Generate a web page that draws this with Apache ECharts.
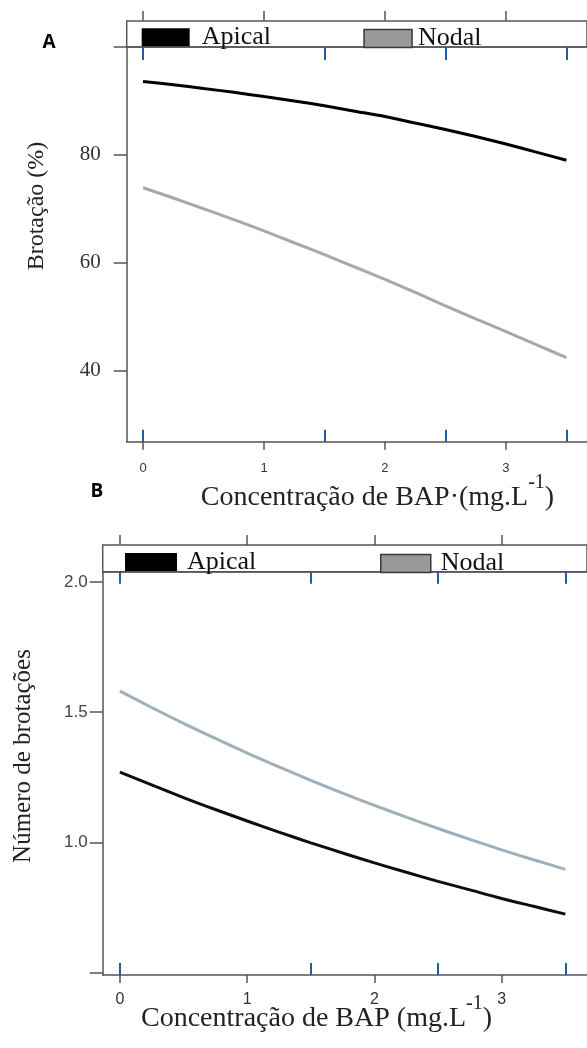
<!DOCTYPE html>
<html>
<head>
<meta charset="utf-8">
<script src="https://cdn.jsdelivr.net/npm/echarts@6/dist/echarts.min.js"></script>
<style>
  html, body { margin: 0; padding: 0; background: #fff; }
  #chart { width: 587px; height: 1048px; }
</style>
</head>
<body>
<div id="chart"></div>
<script>
// dados
const conc = [0, 0.25, 0.5, 0.75, 1, 1.25, 1.5, 1.75, 2, 2.25, 2.5, 2.75, 3, 3.25, 3.5]
const brotacaoApical = [93.6, 93.0, 92.3, 91.6, 90.8, 90.0, 89.1, 88.1, 87.1, 85.9, 84.7, 83.4, 82.0, 80.5, 79.0]
const brotacaoNodal = [73.9, 72.0, 70.0, 68.0, 65.9, 63.7, 61.5, 59.2, 56.9, 54.5, 52.0, 49.6, 47.2, 44.8, 42.4]
const numeroApical = [1.270, 1.221, 1.172, 1.126, 1.082, 1.039, 0.998, 0.959, 0.921, 0.885, 0.850, 0.817, 0.784, 0.754, 0.724]
const numeroNodal = [1.581, 1.518, 1.457, 1.399, 1.343, 1.290, 1.238, 1.189, 1.142, 1.097, 1.053, 1.011, 0.971, 0.933, 0.896]

const xLabelTicks = [0, 1, 2, 3]
const xBlueTicks = [0, 1.5, 2.5, 3.5]
const yLabelsA = [40, 60, 80]
const yTicksA = [40, 60, 80, 100]
const yLabelsB = [1.0, 1.5, 2.0]
const yTicksB = [0.5, 1.0, 1.5, 2.0]

const SERIF = 'Liberation Serif'
const SANS = 'Liberation Sans'
const AXIS = '#555'
const BLUE = '#1f5f9f'
const XMIN = -0.135
const XMAX = 3.67

const pairs = (ys) => conc.map((x, i) => [x, ys[i]])

// eixo x base
const xBase = (gridIndex, extra) => Object.assign({
  type: 'value', gridIndex, min: XMIN, max: XMAX,
  splitLine: { show: false },
  axisLine: { show: false, onZero: false },
  axisLabel: { show: false },
  axisTick: { show: false }
}, extra)

const chart = echarts.init(document.getElementById('chart'))

const legendItem = (left, top, name, w, itemStyle, gap) => ({
  left, top, padding: 0, itemWidth: w, itemHeight: 18, icon: 'rect',
  selectedMode: false,
  data: [{ name, itemStyle }],
  textStyle: { fontFamily: SERIF, fontSize: 26, color: '#111', lineHeight: 18, padding: [0, 0, 0, gap] }
})
const apicalIcon = { color: '#000', borderWidth: 0 }
const nodalIcon = { color: '#999', borderColor: '#3a3a3a', borderWidth: 1.5 }

const xTitle = (x, y) => ({
  type: 'text', x, y,
  style: {
    text: '{t|Concentração de BAP' + (y < 600 ? '·' : ' ') + '(mg.L}{s|-1}{t|)}',
    align: 'center', verticalAlign: 'middle',
    rich: {
      t: { fontFamily: SERIF, fontSize: 28, fill: '#222', lineHeight: 50 },
      s: { fontFamily: SERIF, fontSize: 20, fill: '#222', verticalAlign: 'top', lineHeight: 20 }
    }
  }
})

const yTitle = (x, y, text, size) => ({
  type: 'text', x, y, rotation: Math.PI / 2,
  style: { text, fontFamily: SERIF, fontSize: size, fill: '#222', align: 'center', verticalAlign: 'middle' }
})

const yMain = (gridIndex, min, max, ticks, labels, labelStyle) => ({
  type: 'value', gridIndex, min, max,
  splitLine: { show: false },
  axisLine: { show: true, onZero: false, lineStyle: { color: AXIS, width: 1.5 } },
  axisTick: { show: true, length: 13, customValues: ticks, lineStyle: { color: AXIS, width: 1.5 } },
  axisLabel: Object.assign({ customValues: labels }, labelStyle)
})

const line = (name, xAxisIndex, yAxisIndex, ys, legendColor, color) => ({
  name, type: 'line', xAxisIndex, yAxisIndex, data: pairs(ys),
  smooth: 0.3, showSymbol: false,
  color: legendColor, lineStyle: { color, width: 3 }
})

const option = {
  animation: false,
  backgroundColor: '#fff',
  grid: [
    { left: 126.7, top: 47, right: -5, bottom: 606.3 },
    { left: 102.7, top: 571.7, right: -5, bottom: 73 },
    // faixas da legenda
    { left: 126.7, top: 21, right: -5, height: 26, show: true, borderColor: AXIS, borderWidth: 1.5 },
    { left: 102.7, top: 545, right: -5, height: 26.7, show: true, borderColor: AXIS, borderWidth: 1.5 }
  ],
  legend: [
    legendItem(141.7, 24.2, 'Apical', 48, apicalIcon, 7),
    legendItem(363.3, 25.5, 'Nodal', 48, nodalIcon, 1),
    legendItem(125, 549, 'Apical', 52, apicalIcon, 5),
    legendItem(380, 550.5, 'Nodal', 50, nodalIcon, 5)
  ],
  xAxis: [
    // painel A
    xBase(0, {
      position: 'bottom',
      axisLine: { show: true, onZero: false, lineStyle: { color: AXIS, width: 1.5 } },
      axisTick: { show: true, length: 8, customValues: xLabelTicks, lineStyle: { color: AXIS, width: 1.5 } },
      axisLabel: { show: true, customValues: xLabelTicks, margin: 20, fontFamily: SANS, fontSize: 13, color: '#333' }
    }),
    xBase(0, { position: 'bottom', axisTick: { show: true, inside: true, length: 12, customValues: xBlueTicks, lineStyle: { color: BLUE, width: 2 } } }),
    xBase(0, {
      position: 'top',
      axisLine: { show: true, onZero: false, lineStyle: { color: AXIS, width: 1.5 } },
      axisTick: { show: true, inside: true, length: 13, customValues: xBlueTicks, lineStyle: { color: BLUE, width: 2 } }
    }),
    xBase(2, { position: 'top', axisTick: { show: true, length: 10, customValues: xLabelTicks, lineStyle: { color: AXIS, width: 1.5 } } }),
    // painel B
    xBase(1, {
      position: 'bottom',
      axisLine: { show: true, onZero: false, lineStyle: { color: AXIS, width: 1.5 } },
      axisTick: { show: true, length: 8, customValues: xLabelTicks, lineStyle: { color: AXIS, width: 1.5 } },
      axisLabel: { show: true, customValues: xLabelTicks, margin: 17, fontFamily: SANS, fontSize: 16, color: '#333' }
    }),
    xBase(1, { position: 'bottom', axisTick: { show: true, inside: true, length: 12, customValues: xBlueTicks, lineStyle: { color: BLUE, width: 2 } } }),
    xBase(1, {
      position: 'top',
      axisLine: { show: true, onZero: false, lineStyle: { color: AXIS, width: 1.5 } },
      axisTick: { show: true, inside: true, length: 12, customValues: xBlueTicks, lineStyle: { color: BLUE, width: 2 } }
    }),
    xBase(3, { position: 'top', axisTick: { show: true, length: 10, customValues: xLabelTicks, lineStyle: { color: AXIS, width: 1.5 } } })
  ],
  yAxis: [
    yMain(0, 26.8, 100, yTicksA, yLabelsA, { margin: 26, fontFamily: SERIF, fontSize: 21, color: '#333' }),
    yMain(1, 0.49, 2.04, yTicksB, yLabelsB, { margin: 15, fontFamily: SANS, fontSize: 17, color: '#444', formatter: v => v.toFixed(1) }),
    { type: 'value', gridIndex: 2, show: false },
    { type: 'value', gridIndex: 3, show: false }
  ],
  series: [
    line('Apical', 0, 0, brotacaoApical, '#000', '#000'),
    line('Nodal', 0, 0, brotacaoNodal, '#999', '#a8a8a8'),
    line('Apical', 4, 1, numeroApical, '#000', '#0d0d0d'),
    line('Nodal', 4, 1, numeroNodal, '#999', '#a0b0bb')
  ],
  graphic: [
    { type: 'text', x: 49, y: 43, style: { text: 'A', fontFamily: 'Open Sans', fontWeight: 'bold', fontSize: 19, fill: '#000', align: 'center', verticalAlign: 'middle' } },
    { type: 'text', x: 97, y: 492, style: { text: 'B', fontFamily: 'Open Sans', fontWeight: 'bold', fontSize: 19, fill: '#000', align: 'center', verticalAlign: 'middle' } },
    yTitle(37, 206, 'Brotação (%)', 24),
    yTitle(23, 756, 'Número de brotações', 25),
    xTitle(377.5, 497.5),
    xTitle(316.5, 1019)
  ]
}

chart.setOption(option)
</script>
</body>
</html>
